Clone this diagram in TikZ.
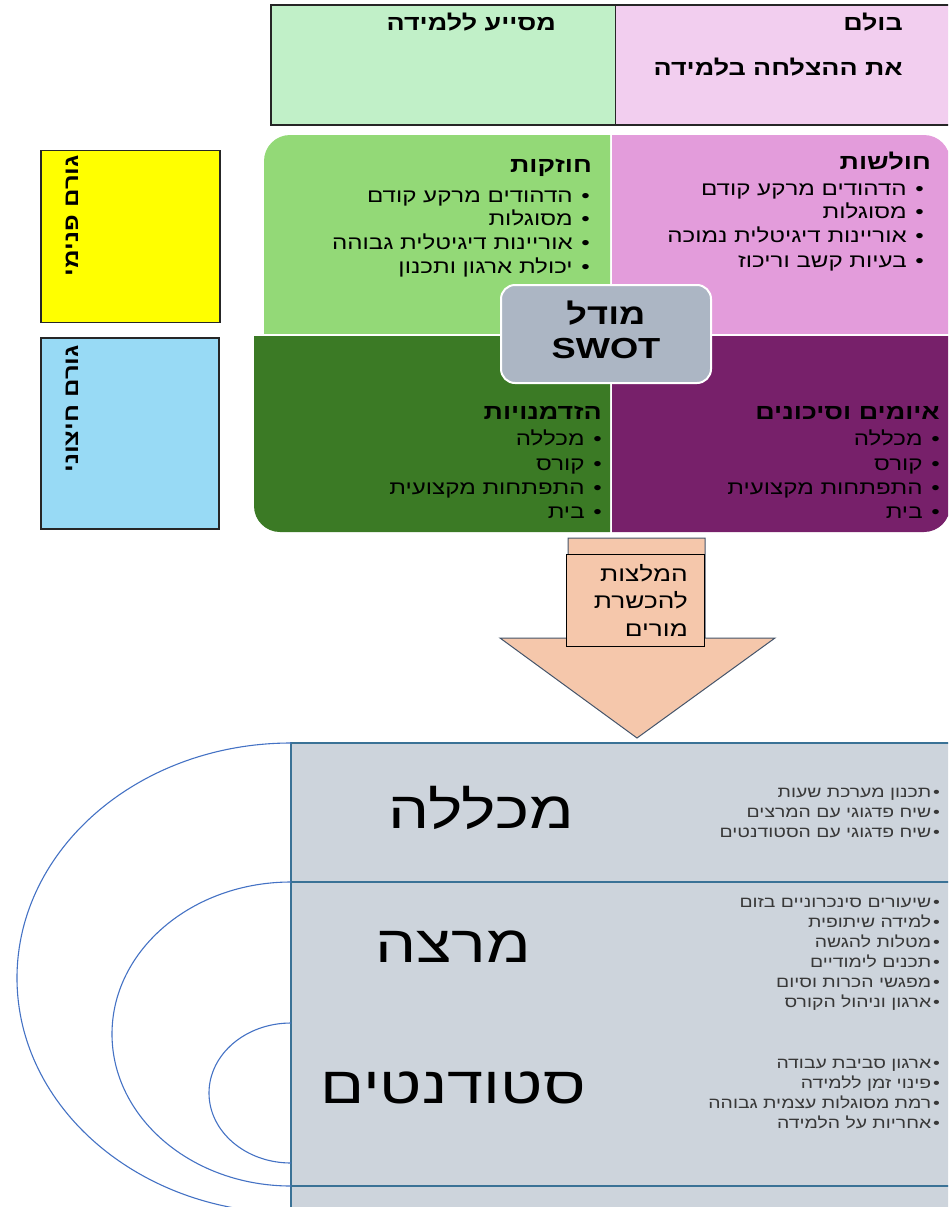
\documentclass[tikz,border=0pt]{standalone}
\usepackage{fontspec}
\TeXXeTstate=1
\newfontfamily\heb[Script=Hebrew,FakeStretch=1.25]{Liberation Sans}
\newcommand{\rl}[1]{\beginR #1\endR}
\newcommand{\bl}[1]{\beginR\textbullet\hspace{0.45em}#1\endR}
\newcommand{\bs}[1]{\beginR\textbullet\hspace{0.12em}#1\endR}
\definecolor{tg}{HTML}{C1F0C8}
\definecolor{tp}{HTML}{F2CEEF}
\definecolor{qtl}{HTML}{93D977}
\definecolor{qtr}{HTML}{E39CDB}
\definecolor{qbl}{HTML}{3B7A25}
\definecolor{qbr}{HTML}{77206A}
\definecolor{cbox}{HTML}{ACB6C4}
\definecolor{ybox}{HTML}{FFFF00}
\definecolor{bbox}{HTML}{98DAF5}
\definecolor{afill}{HTML}{F5C7AB}
\definecolor{aline}{HTML}{44546A}
\definecolor{gbg}{HTML}{CDD4DC}
\definecolor{gline}{HTML}{3A7296}
\definecolor{arcc}{HTML}{4472C4}
\begin{document}
\begin{tikzpicture}[x=1pt,y=-1pt,
  thead/.style={inner sep=0,anchor=base east,font=\heb\bfseries\fontsize{21.5}{24}\selectfont},
  qhead/.style={inner sep=0,anchor=base east,font=\heb\bfseries\fontsize{21.5}{24}\selectfont},
  qitem/.style={inner sep=0,anchor=base east,font=\heb\fontsize{19.3}{22}\selectfont},
  rot/.style={inner sep=0,anchor=east,rotate=90,font=\heb\bfseries\fontsize{20.5}{24}\selectfont},
  ctext/.style={inner sep=0,font=\heb\bfseries\fontsize{29}{34}\selectfont},
  atext/.style={inner sep=0,anchor=base east,font=\heb\fontsize{21}{24}\selectfont},
  big/.style={inner sep=0,font=\heb\fontsize{52}{60}\selectfont},
  bitem/.style={inner sep=0,anchor=base east,text=black!78,font=\heb\fontsize{15.5}{18}\selectfont},
  sidebox/.style={draw=black!85,line width=1.5pt,inner sep=0}
]
\path[use as bounding box] (0,0) rectangle (948,1207);
\begin{scope}
\clip (0,0) rectangle (948,1207);
% top table
\node[fill=tg,inner sep=0,minimum width=344pt,minimum height=120pt] (cellL) at (443,65) {};
\node[fill=tp,inner sep=0,minimum width=340pt,minimum height=120pt] (cellR) at (785,65) {};
\draw[black!85,line width=1.5pt] (955,5) -- (271,5) -- (271,125) -- (955,125);
\draw[black!85,line width=1.2pt] (cellL.north east) -- (cellL.south east);
\node[thead] (t1) at (556,31) {\rl{מסייע ללמידה}};
\node[thead] (t2) at (903,31) {\rl{בולם}};
\node[thead] (t3) at (903,76) {\rl{את ההצלחה בלמידה}};
% SWOT quadrants
\begin{scope}\clip (264,135) rectangle (610,333);
\fill[qtl,rounded corners=26pt] (264,135) rectangle (800,600);\end{scope}
\begin{scope}\clip (612,135) rectangle (948,333);
\fill[qtr,rounded corners=26pt] (300,135) rectangle (950,600);\end{scope}
\begin{scope}\clip (254,336) rectangle (610,532);
\fill[qbl,rounded corners=26pt] (254,0) rectangle (800,532);\end{scope}
\begin{scope}\clip (612,336) rectangle (948,532);
\fill[qbr,rounded corners=26pt] (300,0) rectangle (950,532);\end{scope}
% quadrant texts
\node[qhead] (hTL) at (592,172) {\rl{חוזקות}};
\foreach \yy/\tx [count=\i] in {202/הדהודים מרקע קודם,225/מסוגלות,249/אוריינות דיגיטלית גבוהה,273/יכולת ארגון ותכנון}
  \node[qitem] (iTL\i) at (590,\yy) {\bl{\tx}};
\node[qhead] (hTR) at (931,169) {\rl{חולשות}};
\foreach \yy/\tx [count=\i] in {195/הדהודים מרקע קודם,218/מסוגלות,242/אוריינות דיגיטלית נמוכה,267/בעיות קשב וריכוז}
  \node[qitem] (iTR\i) at (924,\yy) {\bl{\tx}};
\node[qhead] (hBL) at (602,419) {\rl{הזדמנויות}};
\foreach \yy/\tx [count=\i] in {445/מכללה,470/קורס,494/התפתחות מקצועית,518/בית}
  \node[qitem] (iBL\i) at (602,\yy) {\bl{\tx}};
\node[qhead] (hBR) at (940,419) {\rl{איומים וסיכונים}};
\foreach \yy/\tx [count=\i] in {445/מכללה,470/קורס,494/התפתחות מקצועית,518/בית}
  \node[qitem] (iBR\i) at (940,\yy) {\bl{\tx}};
% center box
\node[draw=white,line width=2pt,fill=cbox,rounded corners=14pt,minimum width=210pt,minimum height=98pt,inner sep=0] (swot) at (606,334) {};
\node[ctext] (sw1) at (606,313) {\rl{מודל}};
\node[ctext] (sw2) at (606,349) {SWOT};
% side boxes
\node[sidebox,fill=ybox,minimum width=179pt,minimum height=172pt] (inner) at (130.5,236.5) {};
\node[sidebox,fill=bbox,minimum width=178pt,minimum height=191pt] (outer) at (130,433.5) {};
\node[rot] (innerT) at (72,155) {\rl{גורם פנימי}};
\node[rot] (outerT) at (72,345) {\rl{גורם חיצוני}};
% arrow
\filldraw[fill=afill,draw=aline,line width=1pt,line join=miter] (568,538) -- (705,538) -- (705,638) -- (775,638) -- (637,738) -- (500,638) -- (568,638) -- cycle;
\node[draw=black,fill=afill,line width=1pt,minimum width=138pt,minimum height=92pt,inner sep=0] (rec) at (635,600) {};
\foreach \yy/\tx [count=\i] in {581/המלצות,608/להכשרת,636/מורים}
  \node[atext] (a\i) at (688,\yy) {\rl{\tx}};
% bottom area
\fill[gbg] (291,743) rectangle (960,1220);
\draw[gline,line width=2pt] (960,743) -- (291,743) -- (291,1220);
\draw[gline,line width=2pt] (291,882) -- (960,882);
\draw[gline,line width=2pt] (291,1186) -- (960,1186);
\draw[arcc,line width=1.1pt] (291,743) arc[start angle=270,end angle=90,x radius=274,y radius=235];
\draw[arcc,line width=1.1pt] (291,882) arc[start angle=270,end angle=90,x radius=179,y radius=152];
\draw[arcc,line width=1.1pt] (291,1023) arc[start angle=270,end angle=90,x radius=82,y radius=70];
\node[big] (L1) at (481,808) {\rl{מכללה}};
\node[big] (L2) at (453,947) {\rl{מרצה}};
\node[big] (L3) at (453,1088) {\rl{סטודנטים}};
\foreach \yy/\tx [count=\i] in {797/תכנון מערכת שעות,817/שיח פדגוגי עם המרצים,837/שיח פדגוגי עם הסטודנטים}
  \node[bitem] (b1\i) at (940,\yy) {\bs{\tx}};
\foreach \yy/\tx [count=\i] in {907/שיעורים סינכרוניים בזום,927/למידה שיתופית,947/מטלות להגשה,967/תכנים לימודיים,987/מפגשי הכרות וסיום,1007/ארגון וניהול הקורס}
  \node[bitem] (b2\i) at (940,\yy) {\bs{\tx}};
\foreach \yy/\tx [count=\i] in {1068/ארגון סביבת עבודה,1088/פינוי זמן ללמידה,1108/רמת מסוגלות עצמית גבוהה,1128/אחריות על הלמידה}
  \node[bitem] (b3\i) at (940,\yy) {\bs{\tx}};
\end{scope}
\end{tikzpicture}
\end{document}
